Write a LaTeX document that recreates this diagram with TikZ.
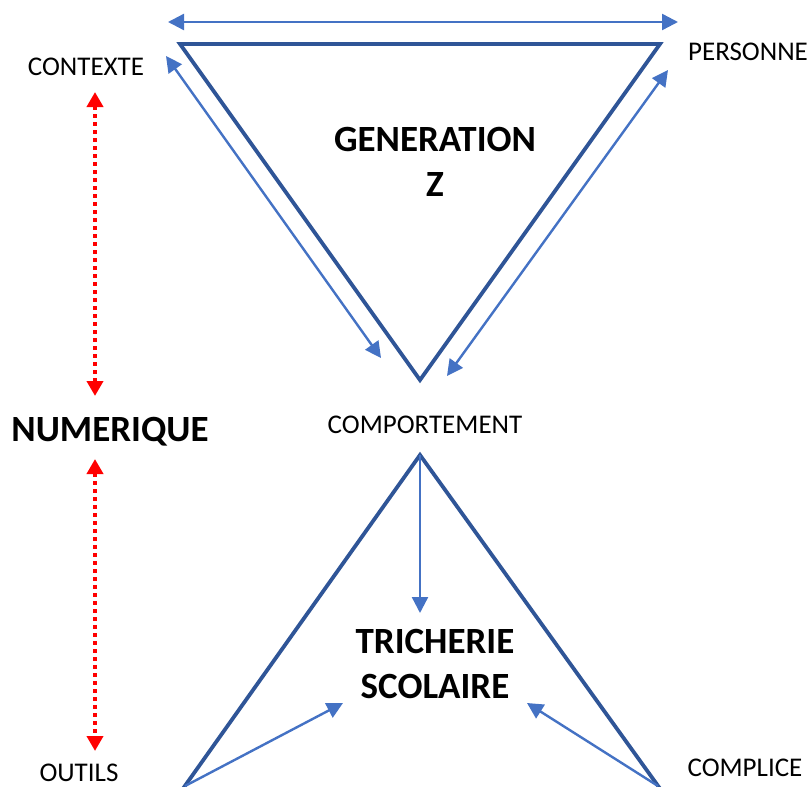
\documentclass[tikz,border=0pt]{standalone}
\usepackage{fontspec}
\setmainfont{Carlito}
\usetikzlibrary{arrows.meta, positioning, calc}
\definecolor{triblue}{HTML}{2F5597}
\definecolor{arrblue}{HTML}{4472C4}
\definecolor{numred}{HTML}{FF0000}

\begin{document}
\begin{tikzpicture}[x=0.5pt, y=-0.5pt,
  tri/.style={draw=triblue, line width=1.9pt, line join=miter},
  link/.style={draw=arrblue, line width=1.2pt, {Triangle[length=8pt,width=8pt]}-{Triangle[length=8pt,width=8pt]}},
  onelink/.style={draw=arrblue, line width=1.2pt, -{Triangle[length=8pt,width=8pt]}},
  numlink/.style={draw=numred, line width=2pt, dash pattern=on 2pt off 2pt, {Triangle[length=7.5pt,width=8pt]}-{Triangle[length=7.5pt,width=8pt]}},
  lbl/.style={font=\fontsize{13.5}{16}\selectfont, inner sep=0pt},
  title/.style={font=\fontsize{18.5}{22.5}\selectfont\bfseries, align=center, inner sep=0pt}]
\useasboundingbox (0,0) rectangle (809,787);

% top triangle
\coordinate (tl) at (180,44);
\coordinate (tr) at (660,44);
\coordinate (tb) at (420,380);
\draw[tri] (tl) -- (tr) -- (tb) -- cycle;

% bottom triangle
\coordinate (bt) at (420,455);
\coordinate (bl) at (182,790);
\coordinate (br) at (661,790);
\draw[tri] (bl) -- (bt) -- (br);

% labels
\node[lbl] (contexte) at (86,67) {CONTEXTE};
\node[lbl] (personne) at (748,52) {PERSONNE};
\node[lbl] (comport) at (425,425) {COMPORTEMENT};
\node[lbl] (outils) at (79,773) {OUTILS};
\node[lbl] (complice) at (745,768) {COMPLICE};
\node[title] (genz) at (435,162) {GENERATION\\Z};
\node[title] (triche) at (435,664) {TRICHERIE\\SCOLAIRE};
\node[title] (numer) at (110,432) {NUMERIQUE};

% blue arrows
\coordinate (ha) at (168,22);
\coordinate (hb) at (678,22);
\draw[link] (ha) -- (hb);
\coordinate (la) at (166,56);
\coordinate (lb) at (381,358);
\draw[link] (la) -- (lb);
\coordinate (ra) at (668,70);
\coordinate (rb) at (447,376);
\draw[link] (ra) -- (rb);

\coordinate (down) at (420,613);
\draw[onelink] (bt) -- (down);
\coordinate (lend) at (343,703);
\coordinate (rend) at (527,703);
\draw[onelink] (185,786) -- (lend);
\draw[onelink] (658,786) -- (rend);

% red dotted arrows
\coordinate (nu1) at (95,92);
\coordinate (nu2) at (95,396);
\coordinate (nd1) at (95,459);
\coordinate (nd2) at (95,751);
\draw[numlink] (nu1) -- (nu2);
\draw[numlink] (nd1) -- (nd2);
\end{tikzpicture}
\end{document}
